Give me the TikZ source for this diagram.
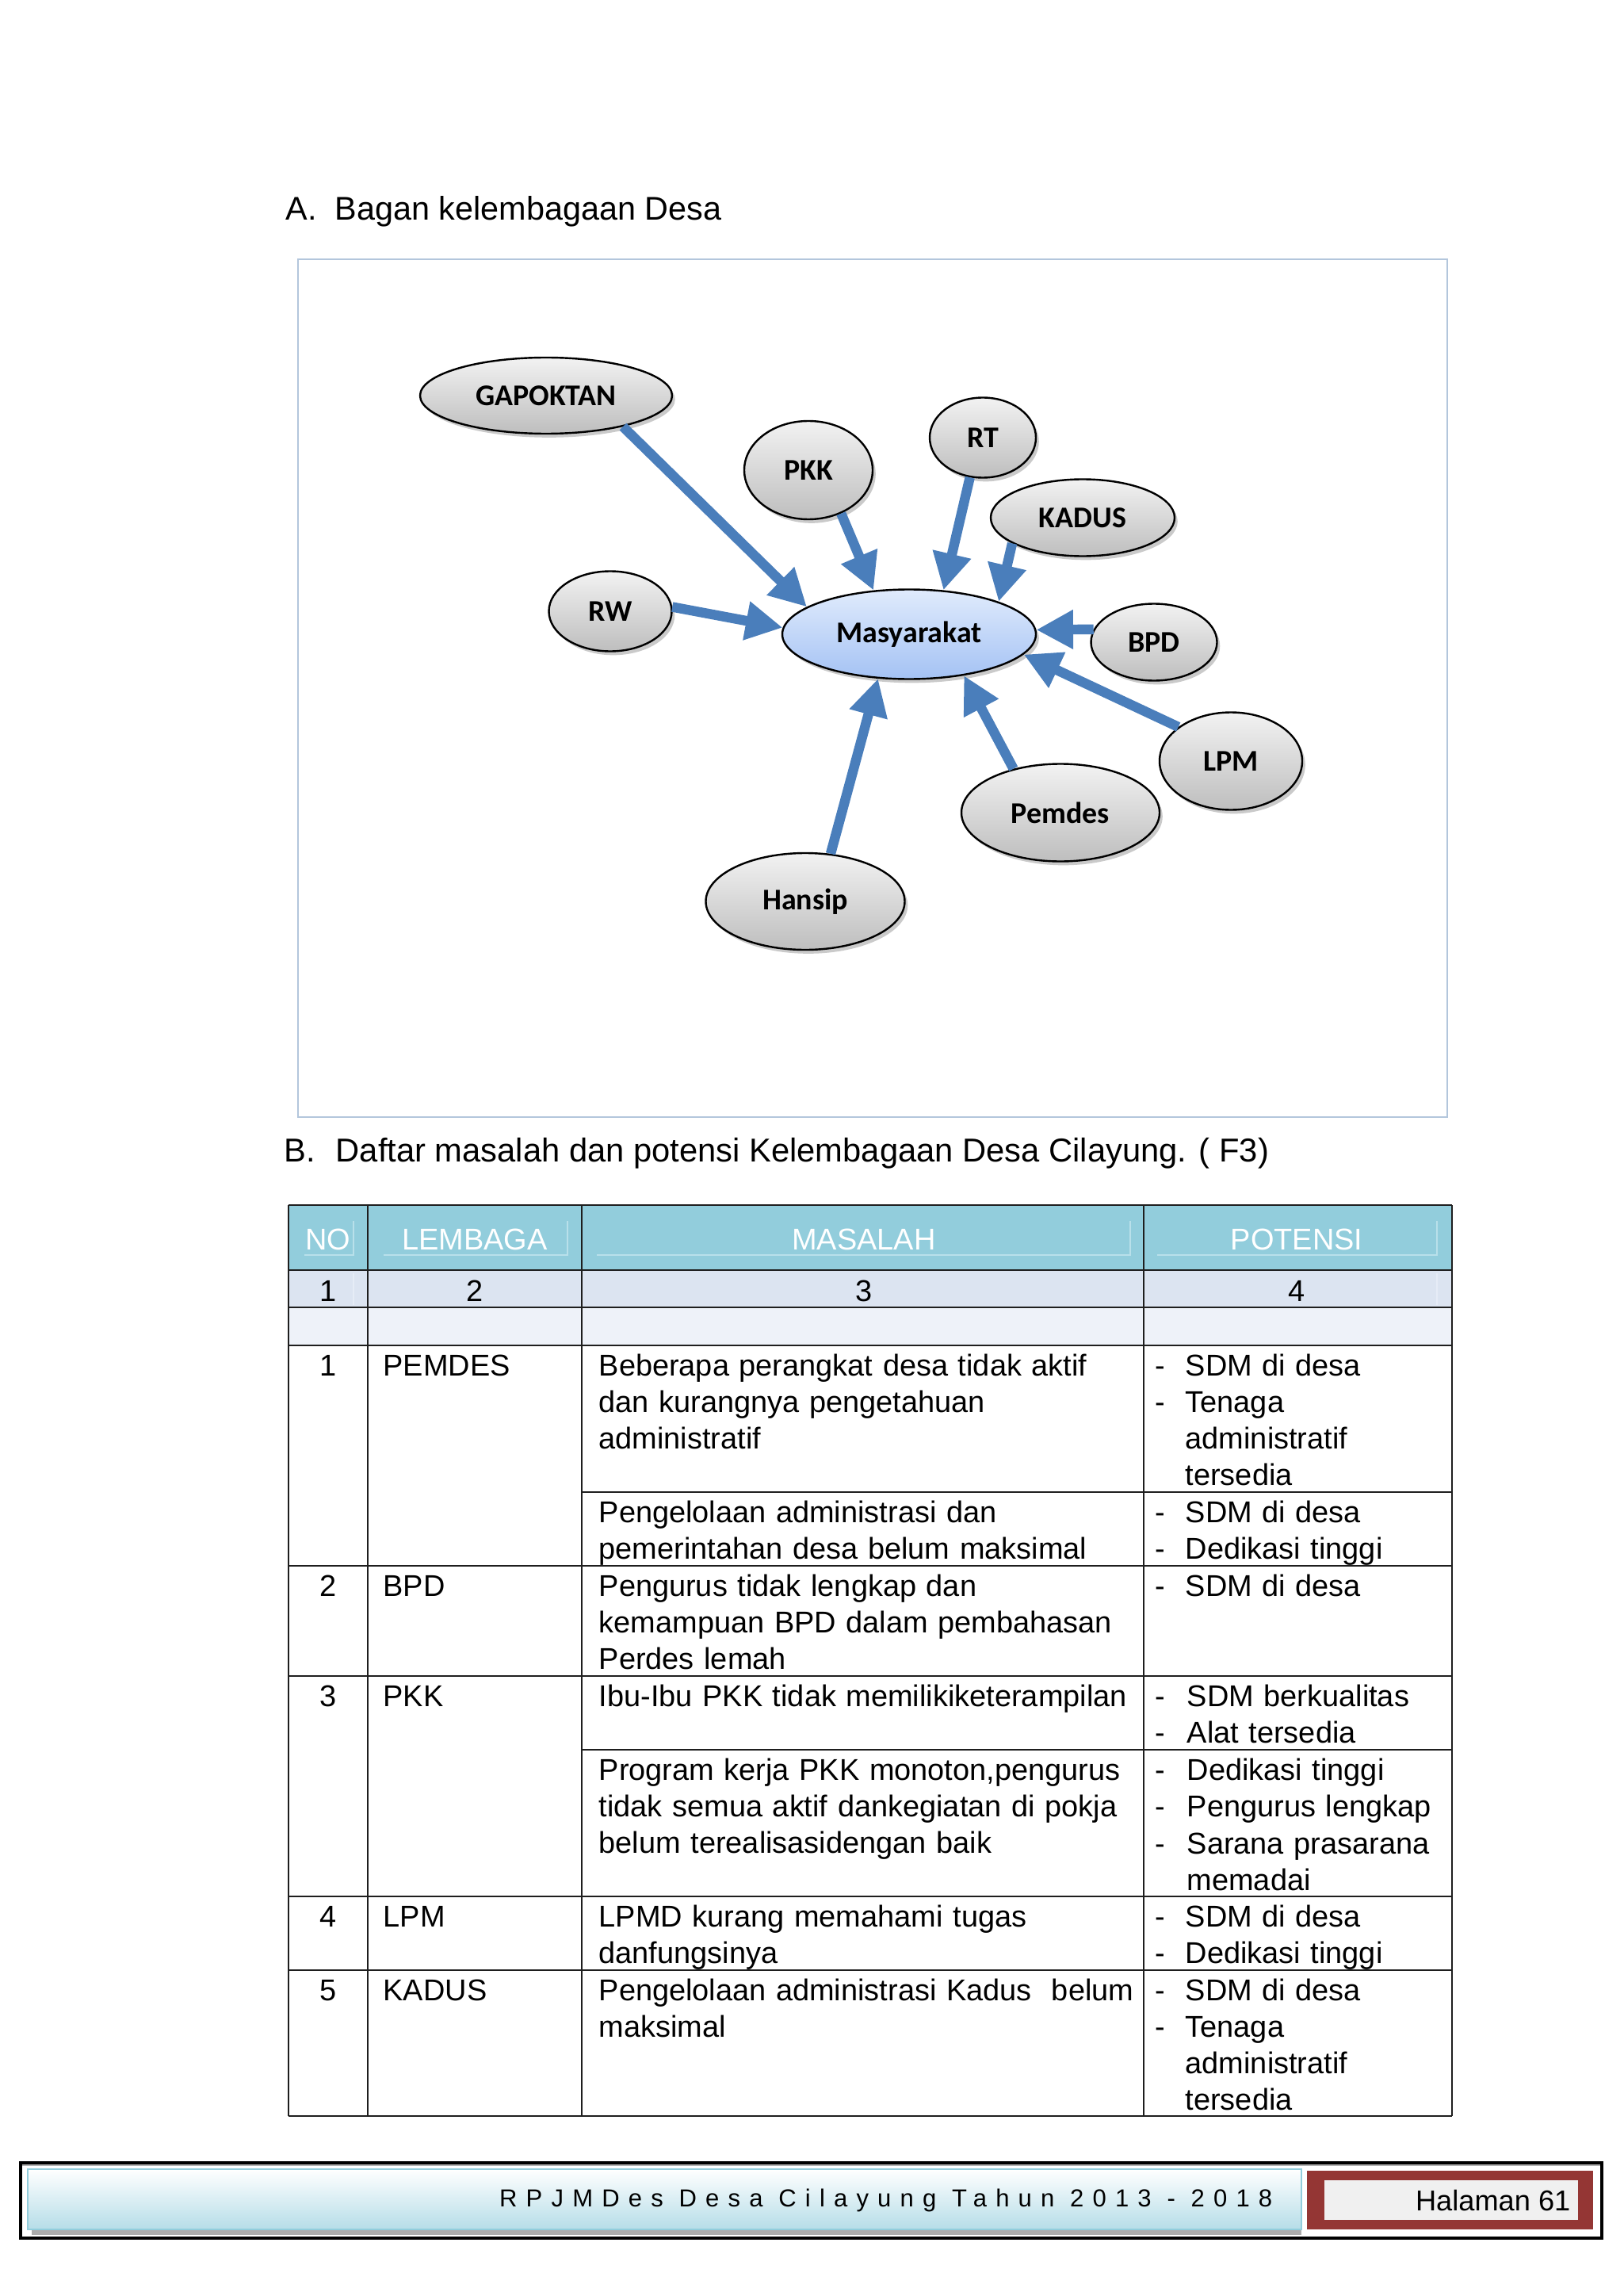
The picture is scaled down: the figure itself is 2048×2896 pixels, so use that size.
\documentclass[tikz,border=0pt]{standalone}
\usepackage{fontspec}
\setmainfont{Liberation Sans}
\newfontfamily\carl{Carlito}
\usetikzlibrary{arrows.meta,shapes.geometric,shadows}
\definecolor{arrowblue}{HTML}{4A7EBB}
\definecolor{hdrfill}{HTML}{92CDDC}
\definecolor{hdrline}{HTML}{B9E0EA}
\definecolor{numfill}{HTML}{DCE4F1}
\definecolor{numline}{HTML}{E6ECF6}
\definecolor{emptyfill}{HTML}{EEF2F9}
\definecolor{frameblue}{HTML}{B3C6DC}
\definecolor{footred}{HTML}{943634}
\definecolor{footblue}{HTML}{B6DDE8}
\definecolor{footedge}{HTML}{92CDDC}
\definecolor{nodetop}{HTML}{F2F2F2}
\definecolor{nodebot}{HTML}{BEBEBE}
\definecolor{mastop}{HTML}{E0EBFC}
\definecolor{masbot}{HTML}{A4C2F4}
\definecolor{gridline}{HTML}{1E1E1E}
\tikzset{
  org/.style 2 args={ellipse, draw=black, line width=0.7pt, inner sep=0pt,
    minimum width=#1*0.29pt, minimum height=#2*0.29pt,
    top color=nodetop, bottom color=nodebot,
    drop shadow={shadow xshift=1.1pt, shadow yshift=-1.4pt, fill=gray!75, opacity=0.55},
    font=\carl\bfseries\fontsize{11}{13}\selectfont},
  masstyle/.style={top color=mastop, bottom color=masbot},
  flow/.style={draw=arrowblue, line width=3.6pt, -{Triangle[length=13.5pt,width=13.5pt]}},
  heading/.style={anchor=base west, inner sep=0pt, font=\fontsize{12}{14}\selectfont},
  headingb/.style={anchor=base west, inner sep=0pt, font=\fontsize{12.1}{14}\selectfont},
  hdr/.style={anchor=base, inner sep=0pt, text=white, font=\fontsize{11}{13}\selectfont},
  num/.style={anchor=base, inner sep=0pt, font=\fontsize{11}{13}\selectfont},
  cell/.style={anchor=base west, inner sep=0pt, align=left, text width=230pt,
    font=\fontsize{11}{13.43}\selectfont},
  dashmark/.style={anchor=base west, inner sep=0pt, font=\fontsize{11}{13}\selectfont},
  hline/.style={draw=gridline, line width=0.6pt},
  vline/.style={draw=gridline, line width=0.45pt},
  inbox/.style={draw=hdrline, line width=0.45pt}
}
\begin{document}
\begin{tikzpicture}[x=0.29pt,y=-0.29pt]
% page
\fill[white] (0,0) rectangle (2048,2896);
\useasboundingbox (0,0) rectangle (2048,2896);

% ---------- Section A ----------
\node[heading] (hA1) at (360,278) {A.};
\node[heading] (hA2) at (422,278) {Bagan kelembagaan Desa};
\draw[frameblue, line width=0.5pt] (376,327) rectangle (1826,1409);

\node[org={318}{96}] (gap) at (689,499) {GAPOKTAN};
\node[org={162}{124}] (pkk) at (1020,593) {PKK};
\node[org={134}{101}] (rt) at (1240,552) {RT};
\node[org={232}{97}] (kad) at (1366,653) {KADUS};
\node[org={155}{101}] (rw) at (770,771) {RW};
\node[org={159}{97}] (bpd) at (1456,810) {BPD};
\node[org={180}{123}] (lpm) at (1553,960) {LPM};
\node[org={250}{123}] (pem) at (1338,1025) {Pemdes};
\node[org={251}{122}] (han) at (1016,1137) {Hansip};
\node[org={320}{113}, masstyle] (mas) at (1147,800) {Masyarakat};

\draw[flow] (gap.-22) -- (mas.165);
\draw[flow] (pkk.-53) -- (mas.129);
\draw[flow] (rt.-108) -- (mas.52);
\draw[flow] (kad.-160) -- (mas.20);
\draw[flow] (rw.4) -- (mas.177);
\draw[flow] (bpd.168) -- (mas.2);
\draw[flow] (lpm.147) -- (mas.-10);
\draw[flow] (pem.137) -- (mas.-37);
\draw[flow] (han.62) -- (mas.-125);

% ---------- Section B ----------
\node[headingb] (hB1) at (358,1465) {B.};
\node[headingb] (hB2) at (423,1465) {Daftar masalah dan potensi Kelembagaan Desa Cilayung. ( F3)};

% fills
\fill[hdrfill] (364,1520) rectangle (1832,1602);
\fill[numfill] (364,1602) rectangle (1832,1649);
\fill[emptyfill] (364,1649) rectangle (1832,1697);
% inner header boxes
\draw[inbox] (384,1583) -- (446,1583) -- (446,1540);
\draw[inbox] (484,1583) -- (716,1583) -- (716,1540);
\draw[inbox] (753,1583) -- (1426,1583) -- (1426,1540);
\draw[inbox] (1460,1583) -- (1813,1583) -- (1813,1540);
\draw[numline, line width=0.45pt] (446,1606) -- (446,1646);
\draw[numline, line width=0.45pt] (1813,1606) -- (1813,1646);

% grid
\foreach \yy in {1520,1602,1649,1697,1975,2114,2392,2485,2669}
  \draw[hline] (364,\yy) -- (1832,\yy);
\foreach \yy in {1882,2207}
  \draw[hline] (734,\yy) -- (1832,\yy);
\foreach \xx in {364,464,734,1443,1832}
  \draw[vline] (\xx,1520) -- (\xx,2669);

% header
\node[hdr] (hNo) at (414,1576) {NO};
\node[hdr] (hLem) at (599,1576) {LEMBAGA};
\node[hdr] (hMas) at (1090,1576) {MASALAH};
\node[hdr] (hPot) at (1636,1576) {POTENSI};
\node[num] (n1) at (414,1641) {1};
\node[num] (n2) at (599,1641) {2};
\node[num] (n3) at (1090,1641) {3};
\node[num] (n4) at (1636,1641) {4};

% row 1 PEMDES
\node[num] (r1no) at (414,1735) {1};
\node[cell] (r1lem) at (483,1735) {PEMDES};
\node[cell] (r1m1) at (755,1735) {Beberapa perangkat desa tidak aktif\\dan kurangnya pengetahuan\\administratif};
\node[dashmark] (r1d1) at (1457,1735) {-};
\node[cell] (r1p1) at (1495,1735) {SDM di desa};
\node[dashmark] (r1d2) at (1457,1781) {-};
\node[cell] (r1p2) at (1495,1781) {Tenaga\\administratif\\tersedia};
\node[cell] (r1m2) at (755,1920) {Pengelolaan administrasi dan\\pemerintahan desa belum maksimal};
\node[dashmark] (r1d3) at (1457,1920) {-};
\node[cell] (r1p3) at (1495,1920) {SDM di desa};
\node[dashmark] (r1d4) at (1457,1966) {-};
\node[cell] (r1p4) at (1495,1966) {Dedikasi tinggi};

% row 2 BPD
\node[num] (r2no) at (414,2013) {2};
\node[cell] (r2lem) at (483,2013) {BPD};
\node[cell] (r2m1) at (755,2013) {Pengurus tidak lengkap dan\\kemampuan BPD dalam pembahasan\\Perdes lemah};
\node[dashmark] (r2d1) at (1457,2013) {-};
\node[cell] (r2p1) at (1495,2013) {SDM di desa};

% row 3 PKK
\node[num] (r3no) at (414,2152) {3};
\node[cell] (r3lem) at (483,2152) {PKK};
\node[cell] (r3m1) at (755,2152) {Ibu-Ibu PKK tidak memilikiketerampilan};
\node[dashmark] (r3d1) at (1457,2152) {-};
\node[cell] (r3p1) at (1497,2152) {SDM berkualitas};
\node[dashmark] (r3d2) at (1457,2198) {-};
\node[cell] (r3p2) at (1497,2198) {Alat tersedia};
\node[cell] (r3m2) at (755,2245) {Program kerja PKK monoton,pengurus\\tidak semua aktif dankegiatan di pokja\\belum terealisasidengan baik};
\node[dashmark] (r3d3) at (1457,2245) {-};
\node[cell] (r3p3) at (1497,2245) {Dedikasi tinggi};
\node[dashmark] (r3d4) at (1457,2291) {-};
\node[cell] (r3p4) at (1497,2291) {Pengurus lengkap};
\node[dashmark] (r3d5) at (1457,2338) {-};
\node[cell] (r3p5) at (1497,2338) {Sarana prasarana\\memadai};

% row 4 LPM
\node[num] (r4no) at (414,2430) {4};
\node[cell] (r4lem) at (483,2430) {LPM};
\node[cell] (r4m1) at (755,2430) {LPMD kurang memahami tugas\\danfungsinya};
\node[dashmark] (r4d1) at (1457,2430) {-};
\node[cell] (r4p1) at (1495,2430) {SDM di desa};
\node[dashmark] (r4d2) at (1457,2476) {-};
\node[cell] (r4p2) at (1495,2476) {Dedikasi tinggi};

% row 5 KADUS
\node[num] (r5no) at (414,2523) {5};
\node[cell] (r5lem) at (483,2523) {KADUS};
\node[cell] (r5m1) at (755,2523) {Pengelolaan administrasi Kadus\ \ belum\\maksimal};
\node[dashmark] (r5d1) at (1457,2523) {-};
\node[cell] (r5p1) at (1495,2523) {SDM di desa};
\node[dashmark] (r5d2) at (1457,2569) {-};
\node[cell] (r5p2) at (1495,2569) {Tenaga\\administratif\\tersedia};

% ---------- Footer ----------
\draw[black, line width=0.9pt] (26,2728) rectangle (2021,2823);
\draw[gray!60, line width=0.4pt] (28,2731) -- (2019,2731);
\fill[gray!65] (40,2810) rectangle (1642,2819);
\shade[top color=white, bottom color=footblue] (35,2736) rectangle (1642,2812);
\draw[footedge, line width=0.6pt] (35,2736) rectangle (1642,2812);
\fill[footred] (1649,2738) rectangle (2010,2812);
\fill[white!94!black] (1671,2750) rectangle (1991,2800);
\node[anchor=base east, inner sep=0pt, font=\fontsize{9}{11}\selectfont] (ftext) at (1606,2783)
  {\addfontfeature{LetterSpace=36}RPJMDes Desa Cilayung Tahun 2013 - 2018};
\node[anchor=base east, inner sep=0pt, font=\fontsize{10.5}{12}\selectfont] (fpage) at (1982,2788) {Halaman 61};
\end{tikzpicture}
\end{document}
